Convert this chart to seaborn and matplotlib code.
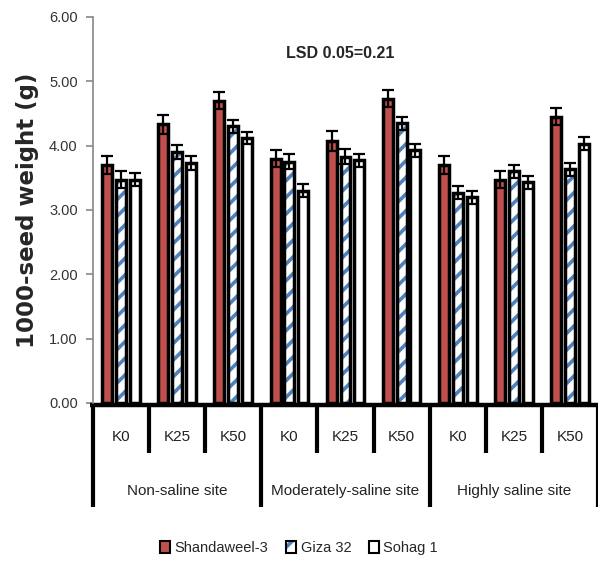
import matplotlib
matplotlib.use("Agg")
import matplotlib.pyplot as plt
import matplotlib.transforms as mtransforms
from matplotlib.patches import Rectangle, Patch
import seaborn as sns
import pandas as pd

sites = ["Non-saline site", "Moderately-saline site", "Highly saline site"]
levels = ["K0", "K25", "K50"]
cultivars = ["Shandaweel-3", "Giza 32", "Sohag 1"]

shandaweel = [3.70, 4.33, 4.70, 3.80, 4.07, 4.73, 3.70, 3.47, 4.45]
giza = [3.47, 3.90, 4.30, 3.75, 3.83, 4.35, 3.27, 3.60, 3.63]
sohag = [3.47, 3.73, 4.12, 3.30, 3.77, 3.93, 3.20, 3.43, 4.03]
err_shandaweel = [0.14, 0.15, 0.13, 0.13, 0.15, 0.13, 0.14, 0.13, 0.13]
err_giza = [0.13, 0.11, 0.10, 0.12, 0.12, 0.10, 0.10, 0.10, 0.10]
err_sohag = [0.10, 0.11, 0.09, 0.10, 0.10, 0.10, 0.10, 0.10, 0.10]

y_ticks = [0, 1, 2, 3, 4, 5, 6]
lsd_text = "LSD 0.05=0.21"

cats = [f"{s}|{k}" for s in sites for k in levels]
rows = []
for vals, errs, cv in [(shandaweel, err_shandaweel, cultivars[0]),
                       (giza, err_giza, cultivars[1]),
                       (sohag, err_sohag, cultivars[2])]:
    for c, v, e in zip(cats, vals, errs):
        rows.append({"cat": c, "cultivar": cv, "value": v, "err": e})
df = pd.DataFrame(rows)

sns.set_style("white")
plt.rcParams["font.family"] = ["Liberation Sans", "DejaVu Sans"]
plt.rcParams["hatch.linewidth"] = 2.6

fig = plt.figure(figsize=(5.98, 5.64), dpi=100)
ax = fig.add_axes([0.1555, 0.2855, 0.8445, 0.6844])

red = "#c0504d"
blue = "#4f81bd"
palette = {cultivars[0]: red, cultivars[1]: "white", cultivars[2]: "white"}
sns.barplot(data=df, x="cat", y="value", hue="cultivar", order=cats,
            hue_order=cultivars, palette=palette, width=0.74, gap=0.28,
            errorbar=None, edgecolor="black", linewidth=2.5, ax=ax,
            legend=False, saturation=1)

bars = [p for p in ax.patches if isinstance(p, Rectangle)]
n = len(cats)
for i, cv in enumerate(cultivars):
    sub = df[df.cultivar == cv].set_index("cat").loc[cats]
    group = bars[i * n:(i + 1) * n]
    for p, v, e in zip(group, sub["value"], sub["err"]):
        xc = p.get_x() + p.get_width() / 2
        ax.errorbar(xc, v, yerr=e, fmt="none", ecolor="black",
                    elinewidth=1.6, capsize=4.5, capthick=1.6, zorder=5)
        if cv == "Giza 32":
            p.set_edgecolor(blue)
            p.set_linewidth(0)
            p.set_hatch("//")
            ax.add_patch(Rectangle(p.get_xy(), p.get_width(), p.get_height(),
                                   fill=False, edgecolor="black",
                                   linewidth=2.5, zorder=4))

ax.set_xlim(-0.5, n - 0.5)
ax.set_ylim(0, 6)
ax.set_yticks(y_ticks)
ax.set_yticklabels([f"{t:.2f}" for t in y_ticks], fontsize=10.5, color="#333333")
ax.set_xticks([])
ax.set_xlabel("")
ax.set_ylabel("1000-seed weight (g)", fontsize=16.5, fontweight="heavy",
              family=["DejaVu Sans"], labelpad=7)
for s in ["top", "right", "bottom"]:
    ax.spines[s].set_visible(False)
ax.spines["left"].set_color("#888888")
ax.spines["left"].set_linewidth(1.2)
ax.tick_params(axis="y", length=5, color="#888888", width=1.2, left=True, pad=6)

ax.text(0.49, 0.905, lsd_text, transform=ax.transAxes, fontsize=11.5,
        fontweight="bold", ha="center", va="center")

# multi-level category axis below
tr = mtransforms.blended_transform_factory(ax.transData, ax.transAxes)
y0 = -0.006
y_short = -0.13
y_long = -0.27
ax.plot([-0.55, n - 0.5], [y0, y0], transform=tr, color="black", lw=3.2,
        clip_on=False, solid_capstyle="butt")
for b in range(n + 1):
    xb = b - 0.5
    bottom = y_long if b % 3 == 0 else y_short
    ax.plot([xb, xb], [y0, bottom], transform=tr, color="black", lw=3.0,
            clip_on=False, solid_capstyle="butt")
for i, c in enumerate(cats):
    ax.text(i, -0.087, c.split("|")[1], transform=tr, ha="center", va="center",
            fontsize=11, color="#222222")
for j, s in enumerate(sites):
    ax.text(3 * j + 1, -0.227, s, transform=tr, ha="center", va="center",
            fontsize=11, color="#222222")

h_red = Patch(facecolor=red, edgecolor="black", linewidth=1.5)
h_giza = (Patch(facecolor="white", edgecolor=blue, hatch="//", linewidth=0),
          Patch(facecolor="none", edgecolor="black", linewidth=1.5))
h_white = Patch(facecolor="white", edgecolor="black", linewidth=1.5)
leg = fig.legend([h_red, h_giza, h_white], cultivars, loc="center",
                 bbox_to_anchor=(0.5, 0.028), ncol=3, frameon=False,
                 fontsize=10.5, handlelength=0.7, handleheight=0.9,
                 handletextpad=0.3, columnspacing=1.2)

fig.savefig("out.png", dpi=100)
